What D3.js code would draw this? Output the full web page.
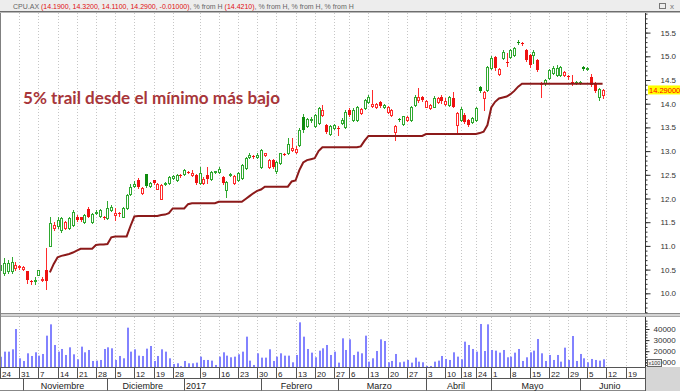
<!DOCTYPE html>
<html>
<head>
<meta charset="utf-8">
<script src="https://cdn.jsdelivr.net/npm/d3@7"></script>
<style>
body{margin:0;background:#fff;}
svg{display:block;font-family:"Liberation Sans",Arial,sans-serif;}
</style>
</head>
<body>
<script>
// CPU.AX daily bars, 24 Oct 2016 .. 9 Jun 2017 (one entry per trading day)
var open = [10.50,10.42,10.46,10.46,10.53,10.55,10.52,10.46,10.26,10.27,10.39,10.30,10.49,11.00,11.37,11.41,11.34,11.38,11.38,11.44,
	11.62,11.60,11.50,11.77,11.50,11.70,11.64,11.62,11.58,11.76,11.66,11.69,11.62,11.80,12.09,12.26,12.40,12.12,12.51,12.27,
	12.39,12.21,12.00,12.30,12.32,12.44,12.39,12.50,12.52,12.56,12.50,12.49,12.32,12.33,12.49,12.42,12.55,12.55,12.45,12.18,
	12.50,12.32,12.39,12.43,12.64,12.87,12.90,12.88,12.67,12.92,12.67,12.81,12.57,12.74,12.94,12.95,13.02,12.99,13.13,13.72,
	13.52,13.65,13.52,13.59,13.76,13.55,13.36,13.48,13.49,13.59,13.50,13.87,13.66,13.66,13.80,13.90,14.04,13.96,13.93,14.04,
	13.93,13.83,13.76,13.41,13.68,13.57,13.66,13.66,13.97,14.08,14.15,13.94,13.90,13.94,14.04,14.15,14.00,13.97,14.11,13.55,
	13.66,13.76,13.66,13.62,13.66,14.36,14.11,14.29,14.75,14.99,14.63,14.96,14.89,14.99,15.03,15.31,15.29,15.13,15.03,15.03,
	14.92,14.42,14.43,14.54,14.65,14.61,14.61,14.61,14.59,14.45,14.43,14.44,14.77,14.73,14.57,14.43,14.15,14.19];
var high = [10.72,10.74,10.70,10.77,10.66,10.60,10.58,10.48,10.28,10.35,10.50,10.35,10.95,11.62,11.50,11.60,11.62,11.53,11.62,11.75,
	11.66,11.62,11.68,11.83,11.70,11.75,11.78,11.64,11.95,11.86,11.80,11.72,11.82,12.10,12.30,12.37,12.44,12.25,12.52,12.35,
	12.40,12.33,12.30,12.34,12.48,12.49,12.52,12.52,12.63,12.59,12.60,12.51,12.67,12.45,12.67,12.58,12.59,12.66,12.47,12.37,
	12.54,12.49,12.55,12.73,12.87,12.96,12.92,12.95,13.04,12.97,12.83,12.83,12.80,12.97,12.96,13.27,13.27,13.10,13.48,13.78,
	13.70,13.72,13.78,13.93,13.97,13.57,13.55,13.57,13.52,13.69,13.86,13.90,13.90,13.96,13.90,14.10,14.18,14.29,14.01,14.06,
	14.00,13.96,13.89,13.55,13.70,13.75,13.74,13.96,14.18,14.33,14.17,14.08,13.99,14.16,14.14,14.18,14.12,14.17,14.25,13.83,
	13.92,13.80,13.68,13.71,13.92,14.38,14.27,14.80,15.00,15.01,14.75,15.14,15.06,15.15,15.20,15.35,15.30,15.15,15.05,15.14,
	14.94,14.46,14.52,14.74,14.80,14.82,14.80,14.68,14.61,14.61,14.47,14.48,14.79,14.78,14.63,14.45,14.33,14.32];
var low = [10.45,10.39,10.42,10.43,10.50,10.52,10.50,10.22,10.20,10.19,10.38,10.27,10.10,10.99,11.33,11.38,11.30,11.35,11.36,11.42,
	11.52,11.52,11.48,11.60,11.48,11.67,11.62,11.57,11.56,11.74,11.55,11.63,11.60,11.78,12.07,12.24,12.23,12.10,12.24,12.25,
	12.30,12.19,11.98,12.28,12.30,12.42,12.37,12.45,12.50,12.53,12.48,12.31,12.30,12.31,12.32,12.40,12.53,12.53,12.31,12.04,
	12.48,12.30,12.37,12.41,12.62,12.85,12.85,12.86,12.65,12.90,12.65,12.65,12.53,12.72,12.91,12.93,13.00,12.97,13.10,13.40,
	13.50,13.62,13.50,13.57,13.74,13.38,13.34,13.46,13.34,13.57,13.48,13.74,13.64,13.64,13.78,13.88,14.02,13.92,13.91,13.93,
	13.91,13.81,13.74,13.23,13.63,13.55,13.63,13.64,13.95,14.04,14.05,13.92,13.88,13.92,14.02,14.02,13.98,13.95,13.92,13.38,
	13.64,13.60,13.52,13.60,13.64,14.24,13.87,14.27,14.73,14.72,14.61,14.94,14.79,14.97,15.01,15.25,15.23,14.90,14.78,14.85,
	14.70,14.15,14.40,14.52,14.63,14.59,14.58,14.59,14.53,14.39,14.41,14.42,14.72,14.71,14.37,14.25,14.08,14.11];
var close = [10.60,10.63,10.64,10.67,10.60,10.57,10.55,10.28,10.24,10.28,10.49,10.31,10.25,11.48,11.44,11.55,11.58,11.51,11.58,11.72,
	11.55,11.54,11.65,11.62,11.68,11.72,11.75,11.60,11.81,11.83,11.69,11.67,11.79,12.07,12.25,12.31,12.25,12.23,12.26,12.33,
	12.32,12.31,12.28,12.32,12.46,12.47,12.50,12.48,12.61,12.55,12.54,12.33,12.53,12.42,12.41,12.56,12.57,12.63,12.33,12.35,
	12.52,12.47,12.53,12.71,12.85,12.92,12.88,12.92,13.02,12.95,12.81,12.67,12.78,12.95,12.93,13.16,13.06,13.05,13.44,13.45,
	13.67,13.68,13.76,13.90,13.87,13.41,13.52,13.55,13.47,13.66,13.83,13.76,13.87,13.92,13.88,14.08,14.15,14.00,13.99,13.95,
	13.97,13.94,13.87,13.52,13.65,13.73,13.72,13.94,14.15,14.14,14.08,14.06,13.97,14.13,14.11,14.06,14.05,14.15,13.94,13.80,
	13.89,13.62,13.55,13.69,13.90,14.26,14.25,14.78,14.96,14.75,14.73,15.10,14.85,15.13,15.17,15.28,15.26,14.92,14.82,15.10,
	14.72,14.44,14.50,14.72,14.75,14.76,14.77,14.66,14.56,14.43,14.45,14.46,14.74,14.76,14.39,14.27,14.30,14.29];
var volume = [15000,19600,19600,21700,40000,13600,11200,18100,15700,19000,16000,17500,34000,44200,25600,19600,22000,16600,23500,17200,
	12700,24100,19000,21100,11200,11500,12100,22000,23500,22600,12100,15700,13600,41200,19600,21700,16000,15700,22300,24700,
	11200,15700,21700,19600,13600,8500,9100,6500,11200,9100,9100,9700,15100,12100,12100,11500,7600,15100,19000,16000,
	14500,15100,17200,19600,33100,11500,7600,18100,14200,14200,21700,11200,15100,18100,16000,16000,10000,16600,46000,33100,
	22000,18700,14500,20500,22600,25600,16600,19600,9700,31600,21100,30700,16600,19600,18100,34000,10600,13600,20200,30700,
	29200,10000,11200,17500,10000,10600,12100,9700,14200,10600,10000,6700,6700,10600,11500,15700,13000,12100,19000,15100,
	12700,28600,25600,22000,19600,44500,20200,44200,21100,20500,18700,21100,14500,15100,18700,22000,11200,14500,19000,20500,
	31000,18100,11200,16600,12100,16600,10600,23200,12100,33700,11200,17500,13600,10000,13000,12100,11500,12700];
// 5% trail line (starts on 10 Nov)
var trail = [null,null,null,null,null,null,null,null,null,null,null,null,null,10.44,10.62,10.76,10.79,10.81,10.83,10.86,
	10.90,10.94,10.94,10.94,10.94,11.02,11.03,11.03,11.04,11.18,11.20,11.20,11.20,11.20,11.42,11.62,11.63,11.63,11.63,11.63,
	11.63,11.63,11.65,11.66,11.69,11.79,11.79,11.79,11.79,11.88,11.90,11.90,11.90,11.90,11.90,11.90,11.90,11.93,11.93,11.93,
	11.93,11.93,11.93,11.93,11.99,12.05,12.11,12.16,12.19,12.25,12.25,12.25,12.25,12.25,12.25,12.25,12.36,12.38,12.60,12.76,
	12.81,12.83,12.85,13.00,13.08,13.08,13.08,13.08,13.08,13.08,13.08,13.08,13.08,13.08,13.10,13.22,13.32,13.32,13.32,13.32,
	13.32,13.32,13.32,13.32,13.32,13.32,13.32,13.32,13.32,13.32,13.32,13.36,13.36,13.36,13.36,13.36,13.36,13.36,13.36,13.36,
	13.36,13.36,13.36,13.36,13.36,13.38,13.41,13.55,13.92,14.04,14.11,14.13,14.15,14.20,14.27,14.36,14.421,14.421,14.421,14.421,
	14.421,14.421,14.421,14.421,14.421,14.421,14.421,14.421,14.421,14.421,14.421,14.421,14.421,14.421,14.421,14.421,14.421,14.421];

var tickIdx = [0,5,10,15,20,25,30,35,40,45,52,57,62,67,72,77,82,87,91,96,101,106,111,116,120,124,128,133,138,143,148,153,158,163];
var tickLbl = ["24","31","7","14","21","28","5","12","19","28","9","16","23","30","6","13","20","27","6","13","20","27","3","10","18","24","1","8","15","22","29","5","12","19"];
var monthIdx = [6,28,48,68,88,111,128,151];
var monthLbl = ["Noviembre","Diciembre","2017","Febrero","Marzo","Abril","Mayo","Junio"];
var priceTicks = [10,10.5,11,11.5,12,12.5,13,13.5,14,14.5,15,15.5];
var volTicks = [10000,20000,30000,40000];
var note = "5% trail desde el mínimo más bajo";

var W = 680, H = 391;
var axisX = 645;
var pTop = 13, pBot = 313, vTop = 317, vBot = 367;

var svg = d3.select("body").append("svg")
	.attr("width",W)
	.attr("height",H);

var x = d3.scaleLinear().domain([0,168]).range([0,644.8]);
var y = d3.scaleLinear().domain([10,15.5]).range([293.3,32.6]);
var yv = d3.scaleLinear().domain([10000,40000]).range([362.3,329]);

var defs = svg.append("defs");
defs.append("clipPath").attr("id","clipP").append("rect")
	.attr("x",1).attr("y",pTop).attr("width",axisX-1).attr("height",pBot-pTop);
defs.append("clipPath").attr("id","clipV").append("rect")
	.attr("x",1).attr("y",vTop).attr("width",axisX-1).attr("height",vBot-vTop);

// header bar
svg.append("rect").attr("x",0).attr("y",0).attr("width",W).attr("height",11).attr("fill","#ededed");
svg.append("line").attr("x1",0).attr("x2",W).attr("y1",11.5).attr("y2",11.5).attr("stroke","#6e6e6e");
svg.append("line").attr("x1",0).attr("x2",W).attr("y1",12.5).attr("y2",12.5).attr("stroke","#b8b8b8");

var n = close.length - 1;
var f4 = d3.format(".4f");
var f5 = function(v){ return d3.format(".5f")(v).replace("\u2212","-"); };
var head = svg.append("text").attr("x",13).attr("y",8.5).attr("font-size","7px");
head.append("tspan").attr("fill","#666").text("CPU.AX ");
head.append("tspan").attr("fill","#e01010")
	.text("(" + [f4(open[n]),f4(high[n]),f4(low[n]),f4(close[n])].join(", ") + ", " + f5(close[n]-close[n-1]) + ")");
head.append("tspan").attr("fill","#666").text(", % from H ");
head.append("tspan").attr("fill","#e01010").text("(" + f4(trail[n]) + ")");
head.append("tspan").attr("fill","#666").text(", % from H, % from H, % from H");

svg.append("rect").attr("x",659.5).attr("y",3.5).attr("width",6).attr("height",5).attr("fill","none").attr("stroke","#777");
svg.append("text").attr("x",670).attr("y",9).attr("font-size","8px").attr("fill","#777").text("x");

// grid
var grid = svg.append("g");
tickIdx.forEach(function(d){
	var gx = Math.round(x(d)) + 0.5;
	if (gx >= axisX) return;
	grid.append("line").attr("x1",gx).attr("x2",gx).attr("y1",pTop).attr("y2",pBot)
		.attr("stroke","#c6c6c6").attr("stroke-dasharray","1,2");
	grid.append("line").attr("x1",gx).attr("x2",gx).attr("y1",vTop).attr("y2",vBot)
		.attr("stroke","#c6c6c6").attr("stroke-dasharray","1,2");
});

// candles
var green = "#2fa82f", greenFill = "#0e8c0e", red = "#ff2b2b", redFill = "#ee1111";
var cg = svg.append("g").attr("clip-path","url(#clipP)");
close.forEach(function(c, i){
	var o = open[i];
	var prev = i > 0 ? close[i-1] : o;
	var col = c >= prev ? green : red;
	var hollow = c > o;
	var cx = Math.round(x(i));
	cg.append("line")
		.attr("x1",cx+0.5).attr("x2",cx+0.5)
		.attr("y1",Math.round(y(high[i]))).attr("y2",Math.round(y(low[i]))+1)
		.attr("stroke",col);
	var top = Math.round(y(Math.max(o,c))), bot = Math.round(y(Math.min(o,c)));
	if (hollow) {
		cg.append("rect")
			.attr("x",cx-0.5).attr("y",top+0.5)
			.attr("width",2).attr("height",Math.max(1,bot-top))
			.attr("fill","#fff").attr("stroke",col);
	} else {
		cg.append("rect")
			.attr("x",cx-1).attr("y",top)
			.attr("width",3).attr("height",Math.max(1,bot-top))
			.attr("fill",col == green ? greenFill : redFill);
	}
});

// trail line
var line = d3.line()
	.defined(function(d){ return d != null; })
	.x(function(d,i){ return x(i); })
	.y(function(d){ return y(d); });
cg.append("path").datum(trail)
	.attr("d",line)
	.attr("fill","none")
	.attr("stroke","#8c1a1a")
	.attr("stroke-width",2);

svg.append("text")
	.attr("x",23).attr("y",104)
	.attr("font-family","Lato, 'Open Sans', sans-serif")
	.attr("font-weight","bold")
	.attr("font-size","17px")
	.attr("textLength",257)
	.attr("lengthAdjust","spacingAndGlyphs")
	.attr("fill","#a8363a")
	.text(note);

// volume
var vg = svg.append("g").attr("clip-path","url(#clipV)");
vg.selectAll("rect").data(volume).enter().append("rect")
	.attr("x",function(d,i){ return Math.round(x(i)); })
	.attr("y",function(d){ return yv(d); })
	.attr("width",2)
	.attr("height",function(d){ return Math.max(0, vBot - yv(d)); })
	.attr("fill","#8282ff");

// panel divider
svg.append("rect").attr("x",0).attr("y",313).attr("width",W).attr("height",4).attr("fill","#d4d4d4");
svg.append("line").attr("x1",0).attr("x2",W).attr("y1",313.5).attr("y2",313.5).attr("stroke","#8a8a8a");
svg.append("line").attr("x1",0).attr("x2",W).attr("y1",316.5).attr("y2",316.5).attr("stroke","#a8a8a8");

// left border
svg.append("line").attr("x1",0.5).attr("x2",0.5).attr("y1",pTop).attr("y2",vBot).attr("stroke","#808080");

// price axis
svg.append("line").attr("x1",axisX+0.5).attr("x2",axisX+0.5).attr("y1",pTop).attr("y2",pBot).attr("stroke","#333");
var minor = d3.range(96,160).map(function(d){ return d/10; });
svg.append("g").attr("transform","translate(" + (axisX+0.5) + ",0)")
	.call(d3.axisRight(y).tickValues(minor).tickSize(2).tickFormat(""))
	.call(function(g){ g.select(".domain").remove(); g.selectAll("line").attr("stroke","#333"); });
var pa = svg.append("g").attr("transform","translate(" + (axisX+0.5) + ",0)")
	.call(d3.axisRight(y).tickValues(priceTicks).tickSize(5).tickPadding(10).tickFormat(d3.format(".1f")));
pa.select(".domain").remove();
pa.attr("font-family",null).attr("font-size",null);
pa.selectAll("line").attr("stroke","#333");
pa.selectAll("text").attr("font-size","8px").attr("fill","#333");

// last price tag
var ly = y(close[n]);
svg.append("rect").attr("x",648).attr("y",ly-4.5).attr("width",32).attr("height",9).attr("fill","#ffff00");
svg.append("text").attr("x",649).attr("y",ly+3).attr("font-size","7.5px").attr("fill","#ff0000").text(f5(close[n]));

// volume axis
svg.append("line").attr("x1",axisX+0.5).attr("x2",axisX+0.5).attr("y1",vTop).attr("y2",vBot).attr("stroke","#333");
svg.append("g").attr("transform","translate(" + (axisX+0.5) + ",0)")
	.call(d3.axisRight(yv).tickValues(d3.range(7500,47600,2500)).tickSize(2).tickFormat(""))
	.call(function(g){ g.select(".domain").remove(); g.selectAll("line").attr("stroke","#333"); });
var va = svg.append("g").attr("transform","translate(" + (axisX+0.5) + ",0)")
	.call(d3.axisRight(yv).tickValues(volTicks).tickSize(4).tickPadding(4).tickFormat(d3.format("d")));
va.select(".domain").remove();
va.attr("font-family",null).attr("font-size",null);
va.selectAll("line").attr("stroke","#333");
va.selectAll("text").attr("font-size","8px").attr("fill","#333");
svg.append("rect").attr("x",647.5).attr("y",359.5).attr("width",14).attr("height",7).attr("fill","#f4f4f4").attr("stroke","#666");
svg.append("text").attr("x",648.5).attr("y",365).attr("font-size","5.5px").attr("fill","#333").text("x100");

// date axis
var ax = svg.append("g");
ax.append("rect").attr("x",0).attr("y",367).attr("width",W).attr("height",24).attr("fill","#fff");
ax.append("rect").attr("x",axisX).attr("y",367).attr("width",W-axisX).attr("height",24).attr("fill","#d6d6d6");
ax.append("line").attr("x1",0).attr("x2",axisX).attr("y1",367.5).attr("y2",367.5).attr("stroke","#555");
ax.append("line").attr("x1",0).attr("x2",axisX).attr("y1",378.5).attr("y2",378.5).attr("stroke","#555");
ax.append("line").attr("x1",0).attr("x2",axisX).attr("y1",390.5).attr("y2",390.5).attr("stroke","#888");
ax.append("line").attr("x1",axisX+0.5).attr("x2",axisX+0.5).attr("y1",367).attr("y2",391).attr("stroke","#555");
tickIdx.forEach(function(d,k){
	var tx = Math.round(x(d)) + 0.5;
	ax.append("line").attr("x1",tx).attr("x2",tx).attr("y1",367.5).attr("y2",378.5).attr("stroke","#555");
	ax.append("text").attr("x",tx+1.5).attr("y",376.5).attr("font-size","8px").attr("fill","#222").text(tickLbl[k]);
});
monthIdx.forEach(function(d,k){
	var mx = Math.round(x(d)) + 0.5;
	var next = k < monthIdx.length-1 ? x(monthIdx[k+1]) : axisX;
	ax.append("line").attr("x1",mx).attr("x2",mx).attr("y1",378.5).attr("y2",390.5).attr("stroke","#555");
	var isYear = /^\d{4}$/.test(monthLbl[k]);
	ax.append("text")
		.attr("x",isYear ? mx+1.5 : (mx+next)/2 - 3)
		.attr("y",388.5)
		.attr("text-anchor",isYear ? "start" : "middle")
		.attr("font-size","9px").attr("fill","#222")
		.text(monthLbl[k]);
});
</script>
</body>
</html>
